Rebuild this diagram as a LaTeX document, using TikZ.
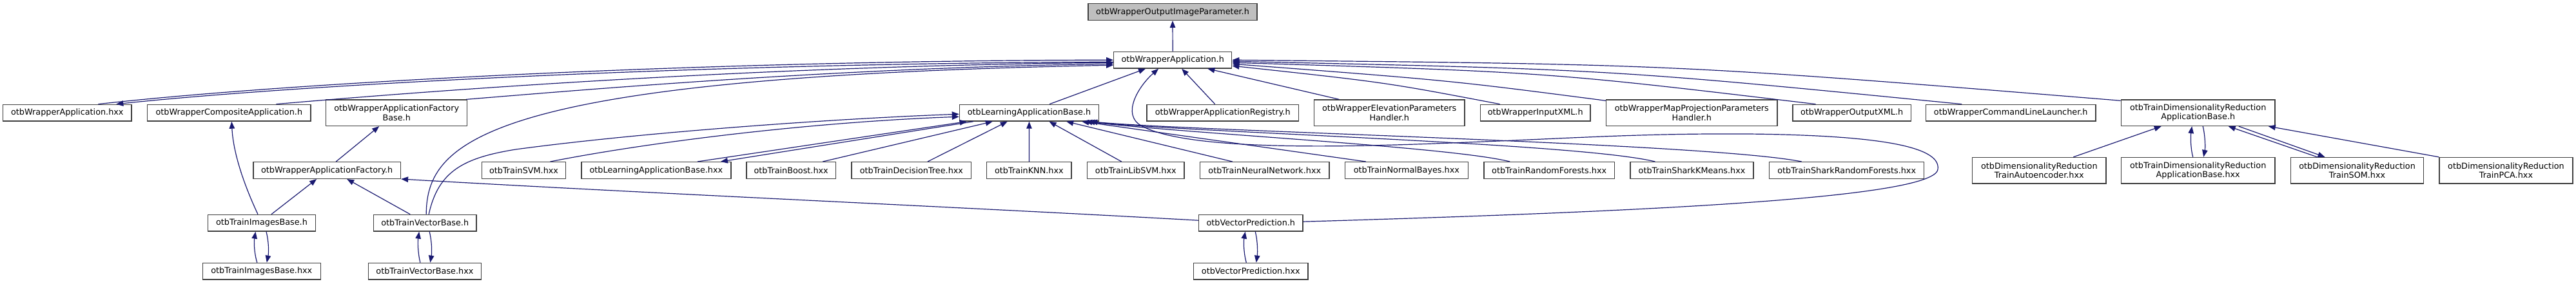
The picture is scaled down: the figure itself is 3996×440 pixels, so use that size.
\documentclass[tikz,border=0pt]{standalone}
\usepackage{fontspec}
\setmainfont{DejaVu Sans}
\usetikzlibrary{arrows.meta,calc}
\definecolor{edgec}{RGB}{25,25,112}
\definecolor{boxc}{RGB}{64,64,64}
\definecolor{topfill}{RGB}{191,191,191}
\begin{document}
\begin{tikzpicture}[x=1pt,y=-1pt,
  box/.style={draw=boxc,line width=1.3pt,fill=white,inner sep=0pt,minimum height=25.7pt,align=center,font=\fontsize{12.8}{14.4}\selectfont},
  tall/.style={minimum height=40.5pt},
  edge/.style={draw=edgec,line width=1.2pt,-{Triangle[length=11pt,width=8.5pt]}}]
\useasboundingbox (0,0) rectangle (3996,440);
% row 1
\node[box,minimum width=262pt,fill=topfill] (oip) at (1819,18.5) {otbWrapperOutputImageParameter.h};
% row 2
\node[box,minimum width=183pt] (wa) at (1819.2,93.2) {otbWrapperApplication.h};
% row 3
\node[box,minimum width=199.5pt] (wahxx) at (104.3,175.2) {otbWrapperApplication.hxx};
\node[box,minimum width=253.4pt] (comp) at (355.3,175.2) {otbWrapperCompositeApplication.h};
\node[box,tall,minimum width=218.8pt] (wafb) at (615.2,175.2) {otbWrapperApplicationFactory\\Base.h};
\node[box,minimum width=216.1pt] (lab) at (1596.5,175.2) {otbLearningApplicationBase.h};
\node[box,minimum width=235.3pt] (reg) at (1896.7,175.2) {otbWrapperApplicationRegistry.h};
\node[box,tall,minimum width=233.5pt] (elev) at (2155.2,175.2) {otbWrapperElevationParameters\\Handler.h};
\node[box,minimum width=170.6pt] (inxml) at (2381.7,175.2) {otbWrapperInputXML.h};
\node[box,tall,minimum width=265.5pt] (mapp) at (2624.3,175.2) {otbWrapperMapProjectionParameters\\Handler.h};
\node[box,minimum width=183.5pt] (outxml) at (2872.6,175.2) {otbWrapperOutputXML.h};
\node[box,minimum width=263.4pt] (cmd) at (3119.2,175.2) {otbWrapperCommandLineLauncher.h};
\node[box,tall,minimum width=238.8pt] (tdrab) at (3409.7,175.2) {otbTrainDimensionalityReduction\\ApplicationBase.h};
% row 4
\node[box,minimum width=228.5pt] (waf) at (507.2,264.5) {otbWrapperApplicationFactory.h};
\node[box,minimum width=130.4pt] (svm) at (812.5,264.5) {otbTrainSVM.hxx};
\node[box,minimum width=232.1pt] (labhxx) at (1017.9,264.5) {otbLearningApplicationBase.hxx};
\node[box,minimum width=138.4pt] (boost) at (1227.2,264.5) {otbTrainBoost.hxx};
\node[box,minimum width=185.7pt] (dtree) at (1413.9,264.5) {otbTrainDecisionTree.hxx};
\node[box,minimum width=131.2pt] (knn) at (1596.4,264.5) {otbTrainKNN.hxx};
\node[box,minimum width=150.4pt] (libsvm) at (1761.8,264.5) {otbTrainLibSVM.hxx};
\node[box,minimum width=200.4pt] (nn) at (1961.8,264.5) {otbTrainNeuralNetwork.hxx};
\node[box,minimum width=190.6pt] (nbayes) at (2181.9,264.5) {otbTrainNormalBayes.hxx};
\node[box,minimum width=202.7pt] (rf) at (2403.2,264.5) {otbTrainRandomForests.hxx};
\node[box,minimum width=191pt] (skm) at (2624.5,264.5) {otbTrainSharkKMeans.hxx};
\node[box,minimum width=240.2pt] (srf) at (2864.7,264.5) {otbTrainSharkRandomForests.hxx};
\node[box,tall,minimum width=207.1pt] (ae) at (3163.3,264.7) {otbDimensionalityReduction\\TrainAutoencoder.hxx};
\node[box,tall,minimum width=238.8pt] (tdrabhxx) at (3409.7,264.7) {otbTrainDimensionalityReduction\\ApplicationBase.hxx};
\node[box,tall,minimum width=206.4pt] (som) at (3656.5,264.7) {otbDimensionalityReduction\\TrainSOM.hxx};
\node[box,tall,minimum width=207.1pt] (pca) at (3887.4,264.7) {otbDimensionalityReduction\\TrainPCA.hxx};
% row 5
\node[box,minimum width=167.4pt] (tib) at (406,346.2) {otbTrainImagesBase.h};
\node[box,minimum width=159.3pt] (tvb) at (659.2,346.2) {otbTrainVectorBase.h};
\node[box,minimum width=161.4pt] (vp) at (1940.3,346.2) {otbVectorPrediction.h};
% row 6
\node[box,minimum width=183pt] (tibhxx) at (405.8,421.2) {otbTrainImagesBase.hxx};
\node[box,minimum width=175pt] (tvbhxx) at (658.9,421.2) {otbTrainVectorBase.hxx};
\node[box,minimum width=177.5pt] (vphxx) at (1940.3,421.2) {otbVectorPrediction.hxx};

% edges into otbWrapperOutputImageParameter.h
\draw[edge] (wa.north) -- (oip.south);
% edges into otbWrapperApplication.h from the left
\draw[edge] ($(wahxx.north)+(48,0)$) .. controls (450,128) and (1100,94) .. (wa.west);
\draw[edge] ($(wa.west)+(0,3)$) .. controls (1100,98) and (470,131) .. ($(wahxx.north)+(76,0)$);
\draw[edge] ($(comp.north)+(73,0)$) .. controls (700,138) and (1200,102) .. ($(wa.west)+(0,4)$);
\draw[edge] ($(wafb.north east)+(-2,0)$) .. controls (900,140) and (1300,105) .. ($(wa.west)+(0,6)$);
\draw[edge] ($(tvb.north)+(2,0)$) .. controls (662,220) and (750,120) .. ($(wa.west)+(0,8)$);
% from below
\draw[edge] ($(lab.north)+(31.5,0)$) -- ($(wa.south west)+(50,0)$);
\draw[edge] ($(reg.north)+(-12,0)$) -- ($(wa.south)+(14,0)$);
\draw[edge] ($(elev.north)+(-78,0)$) -- ($(wa.south east)+(-38,0)$);
\draw[edge] ($(vp.east)+(0,-2)$) .. controls (2500,330) and (3000,310) .. (3006,263)
  .. controls (3012,225) and (2900,210) .. (2712,208)
  .. controls (2550,207) and (2450,214) .. (2300,220)
  .. controls (2150,226) and (1850,240) .. (1770,195)
  .. controls (1740,178) and (1765,135) .. ($(wa.south west)+(70,0)$);
% from the right
\draw[edge] ($(inxml.north)+(-55,0)$) .. controls (2150,128) .. ($(wa.east)+(0,9)$);
\draw[edge] ($(mapp.north west)+(0,2)$) .. controls (2250,125) .. ($(wa.east)+(0,6)$);
\draw[edge] ($(outxml.north)+(-56,0)$) .. controls (2400,112) .. ($(wa.east)+(0,4)$);
\draw[edge] ($(cmd.north)+(-76,0)$) .. controls (2500,108) .. ($(wa.east)+(0,2)$);
\draw[edge] ($(tdrab.north west)+(0,2)$) .. controls (2600,100) .. ($(wa.east)+(0,0)$);

% edges into otbLearningApplicationBase.h
\draw[edge] ($(svm.north)+(41,0)$) .. controls (1000,222) and (1250,190) .. ($(lab.west)+(0,6)$);
\draw[edge] ($(tvb.north)+(6,0)$) .. controls (680,265) and (720,245) .. (800,232)
  .. controls (1000,205) and (1300,184) .. ($(lab.west)+(0,2)$);
\draw[edge] ($(labhxx.north)+(64,0)$) -- ($(lab.south west)+(12,0)$);
\draw[edge] ($(lab.south west)+(22,0)$) -- ($(labhxx.north)+(100,0)$);
\draw[edge] ($(boost.north)+(49,0)$) -- ($(lab.south west)+(52,0)$);
\draw[edge] ($(dtree.north)+(25,0)$) -- ($(lab.south west)+(75,0)$);
\draw[edge] (knn.north) -- (lab.south);
\draw[edge] ($(libsvm.north)+(-22,0)$) -- ($(lab.south)+(31,0)$);
\draw[edge] ($(nn.north)+(-50,0)$) -- ($(lab.south east)+(-51,0)$);
\draw[edge] ($(nbayes.north)+(-63,0)$) -- ($(lab.south east)+(-27,0)$);
\draw[edge] ($(rf.north)+(-61,0)$) .. controls (2250,228) and (1850,208) .. ($(lab.south east)+(-22,0)$);
\draw[edge] ($(skm.north)+(-57,0)$) .. controls (2450,222) and (1850,206) .. ($(lab.south east)+(-18,0)$);
\draw[edge] ($(srf.north)+(-70,0)$) .. controls (2650,222) and (1850,204) .. ($(lab.south east)+(-14,0)$);

% left lower part
\draw[edge] ($(tib.north)+(-6,0)$) .. controls (380,290) and (362,240) .. ($(comp.south)+(4,0)$);
\draw[edge] ($(tib.north)+(15,0)$) -- ($(waf.south)+(-16,0)$);
\draw[edge] ($(tvb.north)+(-23,0)$) -- ($(waf.south)+(31,0)$);
\draw[edge] ($(vp.west)+(0,-4)$) .. controls (1500,322) and (1000,300) .. (waf.south east);
\draw[edge] ($(waf.north)+(14,0)$) -- ($(wafb.south)+(-27,0)$);
\draw[edge] ($(tibhxx.north)+(-7,0)$) .. controls (394,392) and (394,375) .. ($(tib.south)+(-9.6,0)$);
\draw[edge] ($(tib.south)+(7,0)$) .. controls (417,375) and (417,392) .. ($(tibhxx.north)+(8,0)$);
\draw[edge] ($(tvbhxx.north)+(-7,0)$) .. controls (648,392) and (648,375) .. ($(tvb.south)+(-9,0)$);
\draw[edge] ($(tvb.south)+(7,0)$) .. controls (670,375) and (670,392) .. ($(tvbhxx.north)+(8.5,0)$);
\draw[edge] ($(vphxx.north)+(-7,0)$) .. controls (1929,392) and (1929,375) .. ($(vp.south)+(-8.6,0)$);
\draw[edge] ($(vp.south)+(7,0)$) .. controls (1951,375) and (1951,392) .. ($(vphxx.north)+(8.4,0)$);

% dimensionality reduction part
\draw[edge] ($(ae.north)+(53,0)$) -- ($(tdrab.south)+(-57,0)$);
\draw[edge] ($(tdrabhxx.north)+(-8,0)$) .. controls (3398,230) and (3398,212) .. ($(tdrab.south)+(-9.5,0)$);
\draw[edge] ($(tdrab.south)+(7.5,0)$) .. controls (3421,212) and (3421,230) .. ($(tdrabhxx.north)+(8.5,0)$);
\draw[edge] ($(som.north)+(-62,0)$) -- ($(tdrab.south)+(47,0)$);
\draw[edge] ($(tdrab.south)+(63,0)$) -- ($(som.north)+(-50,0)$);
\draw[edge] (pca.north west) -- ($(tdrab.south east)+(-11,0)$);
\end{tikzpicture}
\end{document}
